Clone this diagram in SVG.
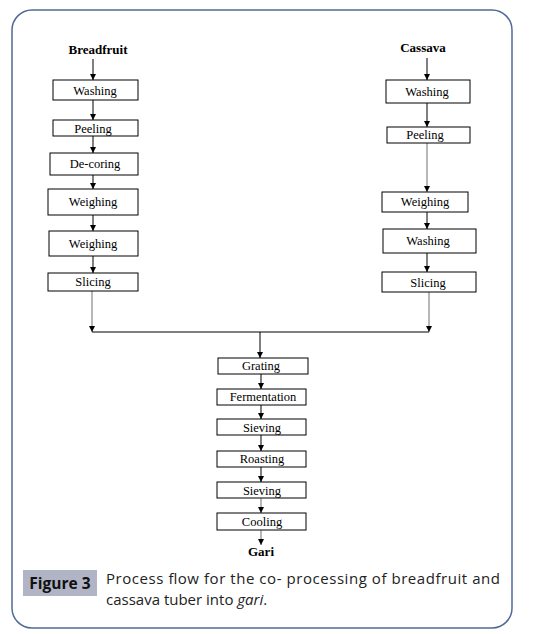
<svg xmlns="http://www.w3.org/2000/svg" width="535" height="634" viewBox="0 0 535 634">
<style>
.box{fill:#fff;stroke:#000;stroke-width:1}
.t{font-family:"Liberation Serif","Times New Roman",serif;font-size:12.5px;fill:#000;text-anchor:middle}
.b{font-family:"Liberation Serif","Times New Roman",serif;font-size:13px;font-weight:bold;fill:#000;text-anchor:middle}
.ln{stroke:#000;stroke-width:1;fill:none}
.gl{stroke:#888;stroke-width:1.2;fill:none}
.cap{font-family:"Open Sans","Liberation Sans",sans-serif;font-size:15px;fill:#222}
</style>
<defs>
<marker id="ah" markerUnits="userSpaceOnUse" markerWidth="8" markerHeight="8" refX="6" refY="3" orient="auto">
<path d="M0,0 L6,3 L0,6 Z" fill="#000"/>
</marker>
</defs>
<rect id="frame" x="12" y="10" width="500" height="618" rx="20" ry="20" fill="#fff" stroke="#4f6b96" stroke-width="1.5"/>
<g id="connectors">
<line class="ln" x1="93" y1="59" x2="93" y2="80" marker-end="url(#ah)"/>
<line class="ln" x1="93" y1="100" x2="93" y2="120" marker-end="url(#ah)"/>
<line class="ln" x1="93" y1="136" x2="93" y2="153" marker-end="url(#ah)"/>
<line class="ln" x1="93" y1="175" x2="93" y2="189" marker-end="url(#ah)"/>
<line class="ln" x1="93" y1="215" x2="93" y2="231" marker-end="url(#ah)"/>
<line class="ln" x1="93" y1="256" x2="93" y2="273" marker-end="url(#ah)"/>
<line class="gl" x1="92" y1="291" x2="92" y2="332" marker-end="url(#ah)"/>
<line class="ln" x1="427" y1="58" x2="427" y2="80" marker-end="url(#ah)"/>
<line class="ln" x1="427" y1="103" x2="427" y2="127" marker-end="url(#ah)"/>
<line class="gl" x1="427" y1="143" x2="427" y2="192" marker-end="url(#ah)"/>
<line class="ln" x1="427" y1="212" x2="427" y2="229" marker-end="url(#ah)"/>
<line class="ln" x1="427" y1="253" x2="427" y2="272" marker-end="url(#ah)"/>
<line class="gl" x1="429" y1="292" x2="429" y2="332" marker-end="url(#ah)"/>
<line class="ln" x1="92" y1="332" x2="429" y2="332"/>
<line class="ln" x1="260" y1="332" x2="260" y2="358" marker-end="url(#ah)"/>
<line class="ln" x1="261" y1="374" x2="261" y2="389" marker-end="url(#ah)"/>
<line class="ln" x1="261" y1="405" x2="261" y2="419" marker-end="url(#ah)"/>
<line class="ln" x1="261" y1="435" x2="261" y2="451" marker-end="url(#ah)"/>
<line class="ln" x1="261" y1="467" x2="261" y2="482" marker-end="url(#ah)"/>
<line class="gl" x1="261" y1="498" x2="261" y2="513" marker-end="url(#ah)"/>
<line class="gl" x1="261" y1="530" x2="261" y2="545" marker-end="url(#ah)"/>
</g>
<g id="breadfruit"><text class="b" x="98" y="54">Breadfruit</text></g>
<g id="l-washing"><rect class="box" x="53" y="80" width="85" height="20"/><text class="t" x="95" y="94.5">Washing</text></g>
<g id="l-peeling"><rect class="box" x="53" y="120" width="85" height="16"/><text class="t" x="93" y="132.5">Peeling</text></g>
<g id="l-decoring"><rect class="box" x="50" y="153" width="88" height="22"/><text class="t" x="95" y="168">De-coring</text></g>
<g id="l-weighing1"><rect class="box" x="48" y="189" width="90" height="26"/><text class="t" x="93" y="206">Weighing</text></g>
<g id="l-weighing2"><rect class="box" x="49" y="231" width="89" height="25"/><text class="t" x="93" y="248">Weighing</text></g>
<g id="l-slicing"><rect class="box" x="48" y="273" width="90" height="18"/><text class="t" x="93" y="286">Slicing</text></g>
<g id="cassava"><text class="b" x="423" y="52">Cassava</text></g>
<g id="r-washing"><rect class="box" x="386" y="80" width="84" height="23"/><text class="t" x="427" y="96">Washing</text></g>
<g id="r-peeling"><rect class="box" x="387" y="127" width="83" height="16"/><text class="t" x="425" y="139">Peeling</text></g>
<g id="r-weighing"><rect class="box" x="382" y="192" width="86" height="20"/><text class="t" x="425" y="206">Weighing</text></g>
<g id="r-washing2"><rect class="box" x="383" y="229" width="93" height="24"/><text class="t" x="428" y="245">Washing</text></g>
<g id="r-slicing"><rect class="box" x="382" y="272" width="94" height="20"/><text class="t" x="428" y="287">Slicing</text></g>
<g id="grating"><rect class="box" x="218" y="358" width="90" height="16"/><text class="t" x="261" y="370">Grating</text></g>
<g id="fermentation"><rect class="box" x="217" y="389" width="89" height="16"/><text class="t" x="263" y="401">Fermentation</text></g>
<g id="sieving1"><rect class="box" x="217" y="419" width="89" height="16"/><text class="t" x="262" y="431.5">Sieving</text></g>
<g id="roasting"><rect class="box" x="217" y="451" width="89" height="16"/><text class="t" x="262" y="463">Roasting</text></g>
<g id="sieving2"><rect class="box" x="217" y="482" width="89" height="16"/><text class="t" x="262" y="494.5">Sieving</text></g>
<g id="cooling"><rect class="box" x="217" y="513" width="89" height="17"/><text class="t" x="262" y="526">Cooling</text></g>
<g id="gari"><text class="b" x="261" y="556">Gari</text></g>
<g id="caption">
<rect x="23" y="570" width="74" height="26" fill="#b0b4c4"/>
<text x="60" y="589" font-family="'Open Sans','Liberation Sans',sans-serif" font-size="15.5px" font-weight="bold" fill="#111" text-anchor="middle">Figure 3</text>
<text class="cap" x="106" y="584" textLength="394" lengthAdjust="spacing">Process flow for the co- processing of breadfruit and</text>
<text class="cap" x="106" y="605">cassava tuber into <tspan font-style="italic">gari</tspan>.</text>
</g>
</svg>
